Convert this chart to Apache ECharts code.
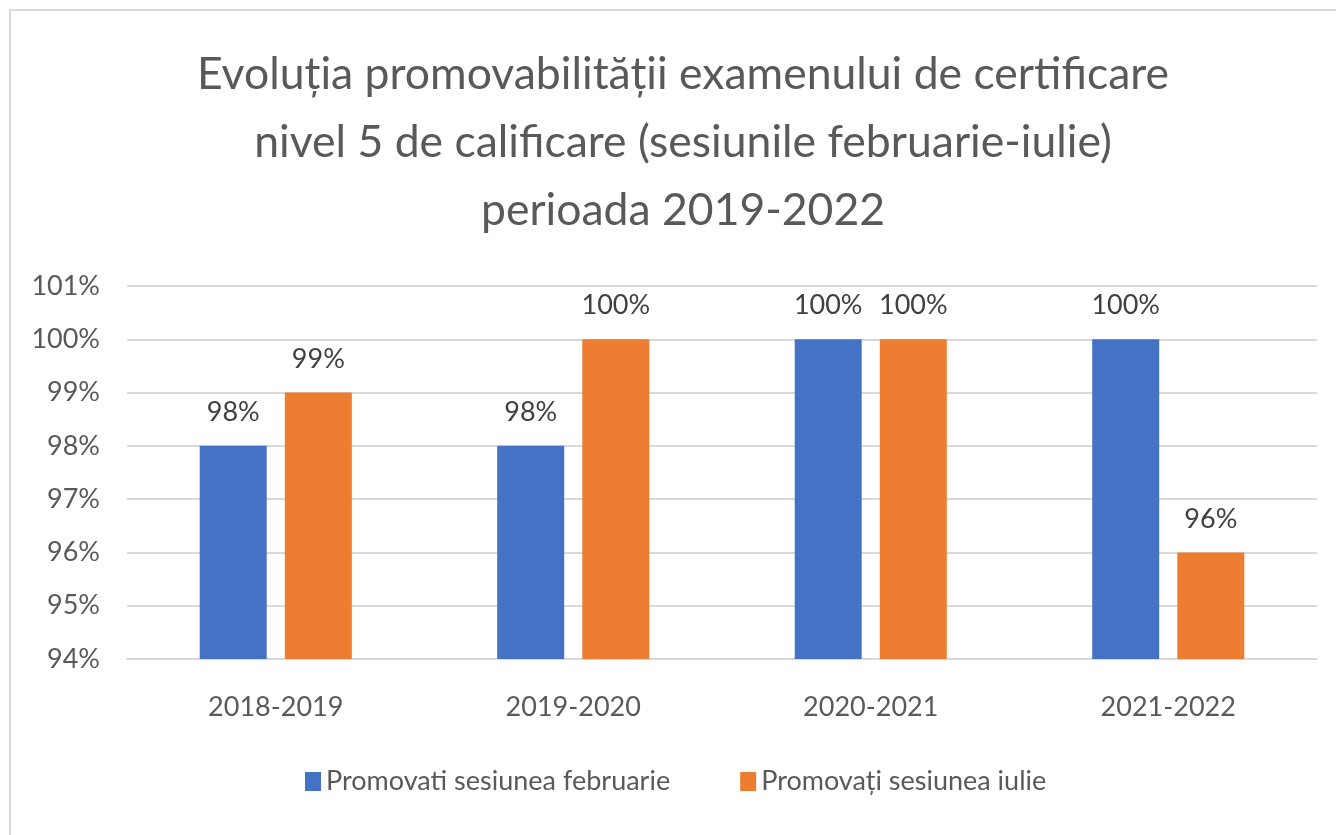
<!DOCTYPE html>
<html>
<head>
<meta charset="utf-8">
<script src="https://cdn.jsdelivr.net/npm/echarts@6/dist/echarts.min.js"></script>
<style>
  html, body { margin: 0; padding: 0; background: #fff; }
  #chart { width: 1336px; height: 835px; }
</style>
</head>
<body>
<div id="chart"></div>
<script>
// date
var categories = ["2018-2019", "2019-2020", "2020-2021", "2021-2022"];
var februarie = [98, 98, 100, 100];
var iulie = [99, 100, 100, 96];
var seriesNames = ["Promovati sesiunea februarie", "Promovați sesiunea iulie"];
var titleText = "Evoluția promovabilității examenului de certificare\nnivel 5 de calificare (sesiunile februarie-iulie)\nperioada 2019-2022";

var font = "Lato";
var chart = echarts.init(document.getElementById("chart"));

var labelStyle = {
  show: true,
  position: "top",
  distance: 20,
  formatter: "{c}%",
  color: "#404040",
  fontFamily: font,
  fontSize: 27
};

chart.setOption({
  animation: false,
  graphic: [{
    type: "rect",
    shape: { x: 10, y: 10, width: 1400, height: 900 },
    style: { fill: "none", stroke: "#d9d9d9", lineWidth: 2 },
    silent: true
  }],
  title: {
    text: titleText,
    left: 678,
    top: 36,
    textAlign: "center",
    textStyle: {
      color: "#595959",
      fontFamily: font,
      fontWeight: "normal",
      fontSize: 44.5,
      lineHeight: 68
    }
  },
  legend: {
    bottom: 35,
    left: 300,
    itemWidth: 16,
    itemHeight: 19,
    itemGap: 70,
    icon: "rect",
    textStyle: { color: "#595959", fontFamily: font, fontSize: 27 },
    data: seriesNames
  },
  grid: { left: 127, right: 19, top: 286, bottom: 176 },
  xAxis: {
    type: "category",
    data: categories,
    axisLine: { lineStyle: { color: "#d9d9d9", width: 2 } },
    axisTick: { show: false },
    axisLabel: { color: "#595959", fontFamily: font, fontSize: 27, margin: 35 }
  },
  yAxis: {
    type: "value",
    min: 94,
    max: 101,
    interval: 1,
    axisLine: { show: false },
    axisTick: { show: false },
    splitLine: { lineStyle: { color: "#d9d9d9", width: 2 } },
    axisLabel: { color: "#595959", fontFamily: font, fontSize: 27, margin: 27, formatter: "{value}%" }
  },
  series: [
    {
      name: seriesNames[0],
      type: "bar",
      data: februarie,
      barWidth: 67,
      barGap: "27%",
      itemStyle: { color: "#4472c4" },
      label: labelStyle
    },
    {
      name: seriesNames[1],
      type: "bar",
      data: iulie,
      barWidth: 67,
      itemStyle: { color: "#ed7d31" },
      label: labelStyle
    }
  ]
});
</script>
</body>
</html>
